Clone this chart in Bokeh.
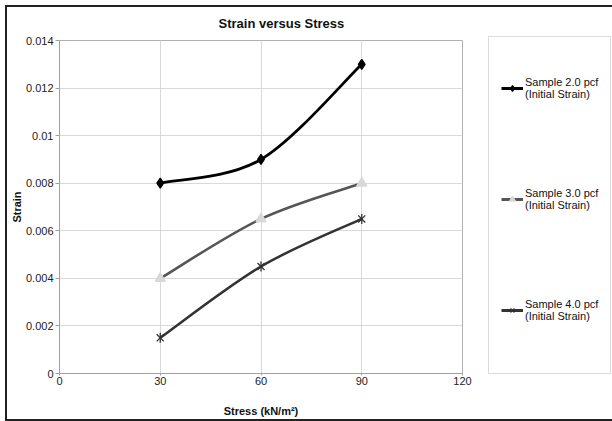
from bokeh.plotting import figure
from bokeh.models import Legend, LegendItem, FixedTicker, ColumnDataSource
from bokeh.embed import file_html
from bokeh.resources import INLINE
import math

stress = [30, 60, 90]
strain_20 = [0.008, 0.009, 0.013]
strain_30 = [0.004, 0.0065, 0.008]
strain_40 = [0.0015, 0.0045, 0.0065]
series_names = ["Sample 2.0 pcf", "Sample 3.0 pcf", "Sample 4.0 pcf"]
series_sub = "(Initial Strain)"
x_ticks = [0, 30, 60, 90, 120]
y_ticks = [0, 0.002, 0.004, 0.006, 0.008, 0.01, 0.012, 0.014]
y_tick_labels = ["0", "0.002", "0.004", "0.006", "0.008", "0.01", "0.012", "0.014"]

FONT = "Liberation Sans"

p = figure(frame_width=403, frame_height=333, output_backend="svg", toolbar_location=None,
           x_range=(0, 120), y_range=(0, 0.014),
           min_border_left=52, min_border_right=148, min_border_top=33,
           min_border_bottom=44)
p.margin = (5, 0, 0, 5)
p.styles = {"border-left": "2px solid #222", "border-top": "2px solid #222",
            "border-bottom": "2px solid #222"}

p.title.text = "Strain versus Stress"
p.title.align = "left"
p.title.offset = 159
p.title.vertical_align = "top"
p.title.text_font = FONT
p.title.text_font_size = "13px"
p.title.text_font_style = "bold"
p.title.text_color = "#111"
p.title.standoff = 16

p.xaxis.ticker = FixedTicker(ticks=x_ticks)
p.yaxis.ticker = FixedTicker(ticks=y_ticks)
p.yaxis.major_label_overrides = {t: l for t, l in zip(y_ticks, y_tick_labels)}
p.xaxis.axis_label = "Stress (kN/m²)"
p.yaxis.axis_label = "Strain"
for ax in (p.xaxis, p.yaxis):
    ax.axis_label_text_font = FONT
    ax.axis_label_text_font_size = "11px"
    ax.axis_label_text_font_style = "bold"
    ax.axis_label_text_color = "#111"
    ax.major_label_text_font = FONT
    ax.major_label_text_font_size = "11px"
    ax.major_label_text_color = "#222"
    ax.axis_line_color = "#a0a0a0"
    ax.major_tick_line_color = "#a0a0a0"
    ax.minor_tick_line_color = None
    ax.major_tick_in = 0
p.xaxis.major_tick_out = 2
p.xaxis.major_label_standoff = 1
p.xaxis.axis_label_standoff = 17
p.yaxis.major_tick_out = 4
p.yaxis.major_label_standoff = 2
p.yaxis.axis_label_standoff = 0

p.xgrid.ticker = FixedTicker(ticks=x_ticks)
p.ygrid.ticker = FixedTicker(ticks=y_ticks)
p.grid.grid_line_color = "#d9d9d9"
p.grid.grid_line_width = 1
p.outline_line_color = "#b0b0b0"
p.outline_line_width = 1


def smooth_segments(xs, ys):
    n = len(xs)
    segs = {"x0": [], "y0": [], "x1": [], "y1": [], "cx0": [], "cy0": [], "cx1": [], "cy1": []}
    for i in range(n - 1):
        i0 = max(i - 1, 0)
        i3 = min(i + 2, n - 1)
        segs["x0"].append(xs[i]); segs["y0"].append(ys[i])
        segs["x1"].append(xs[i + 1]); segs["y1"].append(ys[i + 1])
        segs["cx0"].append(xs[i] + (xs[i + 1] - xs[i0]) / 6)
        segs["cy0"].append(ys[i] + (ys[i + 1] - ys[i0]) / 6)
        segs["cx1"].append(xs[i + 1] - (xs[i3] - xs[i]) / 6)
        segs["cy1"].append(ys[i + 1] - (ys[i3] - ys[i]) / 6)
    return ColumnDataSource(segs)


styles = [
    dict(color="#000000", width=2.8, marker="diamond", msize=10, mfill="#000000", mline="#000000"),
    dict(color="#555555", width=2.6, marker="triangle", msize=10, mfill="#d8d8d8", mline="#d8d8d8"),
    dict(color="#333333", width=2.5, marker="x", msize=10, mfill="#333333", mline="#333333"),
]
items = []
for name, ys, st in zip(series_names, [strain_20, strain_30, strain_40], styles):
    src = smooth_segments(stress, ys)
    p.bezier(x0="x0", y0="y0", x1="x1", y1="y1", cx0="cx0", cy0="cy0", cx1="cx1", cy1="cy1",
             source=src, line_color=st["color"], line_width=st["width"])
    # single-point line: draws nothing in the plot, but provides the legend's line sample
    proxy = p.line(x=stress[:1], y=ys[:1], line_color=st["color"], line_width=3)
    rs = [proxy]
    m = p.scatter(x=stress, y=ys, marker=st["marker"], size=st["msize"],
                  fill_color=st["mfill"], line_color=st["mline"], line_width=1.3)
    rs.append(m)
    if st["marker"] == "x":
        m2 = p.scatter(x=stress, y=ys, marker="dash", angle=math.pi / 2, size=st["msize"],
                       line_color=st["mline"], line_width=1.3)
        rs.append(m2)
    items.append(LegendItem(label=name + "\n" + series_sub, renderers=rs))

legend = Legend(items=items, location=(26, -1), padding=12, spacing=33,
                label_height=78, glyph_height=14, glyph_width=22, label_standoff=2,
                label_width=72,
                label_text_font=FONT, label_text_font_size="11px", label_text_color="#111",
                border_line_color="#b8b8b8", border_line_width=1,
                background_fill_color="white", background_fill_alpha=1, margin=0,
                title=" ", title_location="below", title_text_font_size="1px",
                title_standoff=11)
p.add_layout(legend, "right")

open("out.html", "w").write(file_html(p, INLINE))
